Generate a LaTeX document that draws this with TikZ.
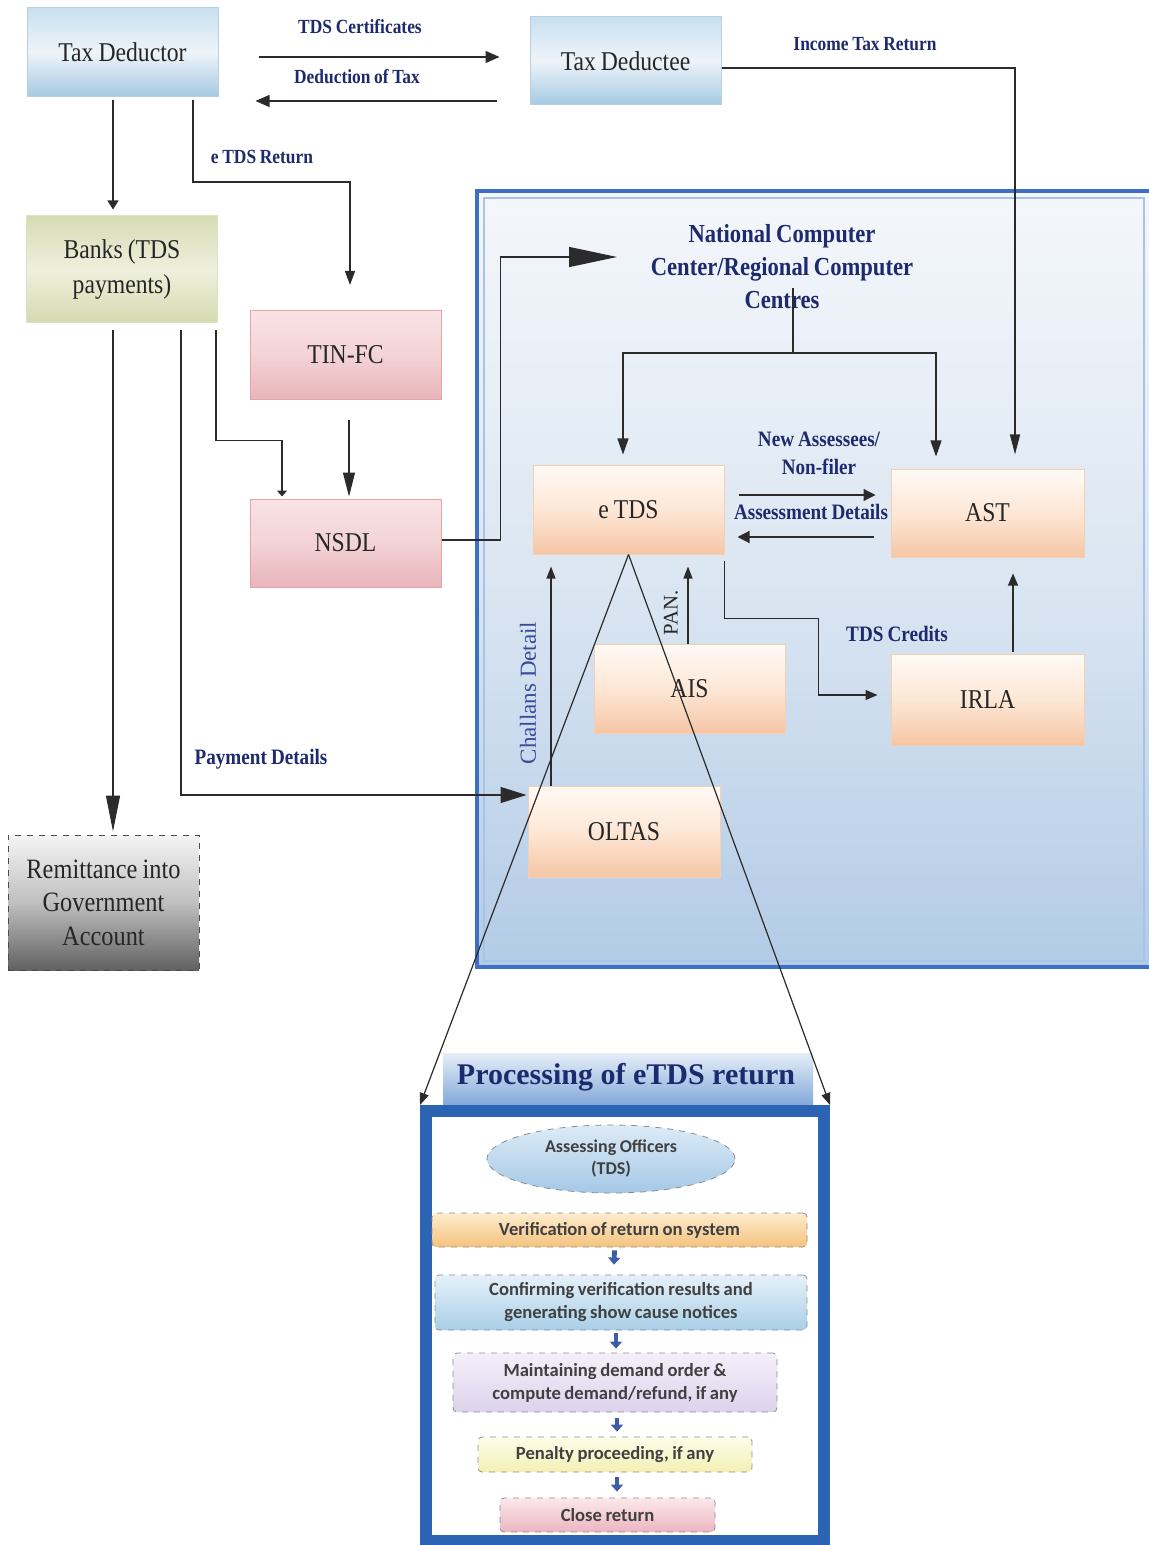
\documentclass[tikz,border=0pt]{standalone}
\usepackage{fontspec}
\setmainfont{Liberation Serif}[FakeStretch=0.87,WordSpace=0.85]
\newfontfamily\wideserif{Liberation Serif}
\newfontfamily\calib{Carlito}[WordSpace=0.85]
\usetikzlibrary{arrows.meta,calc,shapes.geometric}
\definecolor{navy}{HTML}{1E2A6E}
\definecolor{lineg}{HTML}{2B2B2B}
\definecolor{panelblue}{HTML}{2C64B4}
\definecolor{framebl}{HTML}{3D6FC4}
\definecolor{chall}{HTML}{3B4A9A}
\definecolor{sarrc}{HTML}{3D5EA6}
\definecolor{bT}{HTML}{C9E0F0}\definecolor{bM}{HTML}{EEF4F9}\definecolor{bB}{HTML}{A5C9E3}\definecolor{bD}{HTML}{B5D0E6}
\definecolor{gT}{HTML}{D6DBB5}\definecolor{gM}{HTML}{EEF0DC}\definecolor{gB}{HTML}{D5DAB0}\definecolor{gD}{HTML}{DDE2C4}
\definecolor{pT}{HTML}{F9E3E5}\definecolor{pM}{HTML}{F3D3D6}\definecolor{pB}{HTML}{E8B4BA}\definecolor{pD}{HTML}{E7A3AC}
\definecolor{oT}{HTML}{FFFAF5}\definecolor{oM}{HTML}{FDE7D6}\definecolor{oB}{HTML}{F5C6A5}\definecolor{oD}{HTML}{F5CFB3}
\definecolor{cT}{HTML}{F4F7FB}\definecolor{cM}{HTML}{DBE6F2}\definecolor{cB}{HTML}{B3CBE6}\definecolor{cL}{HTML}{A9C3E6}
\definecolor{elT}{HTML}{DCEBF7}\definecolor{elB}{HTML}{A5C8E6}
\definecolor{cfT}{HTML}{E6F1F9}\definecolor{cfB}{HTML}{A9CFE8}
\definecolor{mtT}{HTML}{F4F0F9}\definecolor{mtB}{HTML}{DCD2EC}
\definecolor{vrT}{HTML}{FDECCD}\definecolor{vrB}{HTML}{F4C27D}
\definecolor{pnT}{HTML}{FEFDE9}\definecolor{pnB}{HTML}{F3F0B5}
\definecolor{clT}{HTML}{FBE8EC}\definecolor{clB}{HTML}{EBB6C0}
\definecolor{tbT}{HTML}{E6EEF8}\definecolor{tbB}{HTML}{7EA6D8}
\tikzset{
  box/.style={draw, line width=0.5pt, minimum width=95.5pt, minimum height=44.5pt, inner sep=2pt,
    font=\fontsize{13.6}{17}\selectfont, text=black!85, align=center},
  bluebox/.style={box, draw=bD, top color=bT, bottom color=bB, middle color=bM},
  greenbox/.style={box, draw=gD, top color=gT, bottom color=gB, middle color=gM},
  pinkbox/.style={box, draw=pD, top color=pT, bottom color=pB, middle color=pM},
  greybox/.style={box, draw=black!70, dashed, top color=black!4, bottom color=black!62, middle color=black!25},
  peachbox/.style={box, draw=oD, top color=oT, bottom color=oB, middle color=oM},
  lbl/.style={font=\bfseries\fontsize{10}{12}\selectfont, text=navy},
  lblb/.style={font=\bfseries\fontsize{11}{14}\selectfont, text=navy, align=center},
  con/.style={draw=lineg, line width=0.6pt},
  tipp/.style 2 args={-{Triangle[length=#1,width=#2]}},
  pbox/.style={rounded corners=2pt, draw=black!45, dashed, line width=0.4pt,
    font=\calib\bfseries\fontsize{9.3}{11.5}\selectfont, text=black!75, align=center, inner sep=1pt},
  sarr/.style={draw=sarrc, line width=2.4pt, -{Triangle[length=3.5pt,width=6pt]}}
}
\begin{document}
\begin{tikzpicture}[x=0.5pt,y=-0.5pt]
\useasboundingbox[fill=white] (0,0) rectangle (1149,1545);

% container for the NCC area
\shade[top color=cT, bottom color=cB, middle color=cM] (478,192) rectangle (1149,966);
\draw[line width=2.2pt, draw=framebl] (477,191) rectangle (1151,967);
\draw[line width=0.6pt, draw=cL] (484,198) rectangle (1144,961);

% nodes
\node[bluebox] (td) at (122.5,52.5) {Tax Deductor};
\node[bluebox, minimum height=44pt] (tde) at (625.5,61) {Tax Deductee};
\node[greenbox, minimum height=53.5pt, font=\fontsize{13.6}{17.5}\selectfont] (banks) at (122,269.5) {Banks (TDS\\payments)};
\node[pinkbox] (tin) at (345.5,355) {TIN-FC};
\node[pinkbox, minimum height=44pt] (nsdl) at (345.5,543) {NSDL};
\node[greybox, minimum height=67.5pt, font=\fontsize{14}{16.75}\selectfont] (rem) at (103.5,902.5) {Remittance into\\Government\\Account};

\node[font=\bfseries\fontsize{13}{16.5}\selectfont, text=navy, align=center, inner sep=0pt] (ncc) at (782,267) {National Computer\\Center/Regional Computer\\Centres};
\coordinate (split) at (793,353);

\node[peachbox] (etds) at (628.5,509.5) {e TDS};
\node[peachbox, minimum width=96.5pt, minimum height=44pt] (ast) at (987.5,513) {AST};
\node[peachbox] (ais) at (689.5,688.5) {AIS};
\node[peachbox, minimum width=96.5pt, minimum height=45.5pt] (irla) at (987.5,699.5) {IRLA};
\node[peachbox, minimum width=96pt, minimum height=45.5pt] (oltas) at (624,831.5) {OLTAS};

% labels
\node[lbl] (l1) at (360,27) {TDS Certificates};
\node[lbl] (l2) at (357,77) {Deduction of Tax};
\node[lbl] (l3) at (865,44) {Income Tax Return};
\node[lbl] (l4) at (262,157) {e TDS Return};
\node[lblb] (l5) at (261,759) {Payment Details};
\node[lblb] (l6) at (819,453) {New Assessees/\\Non-filer};
\node[lblb] (l7) at (811,512) {Assessment Details};
\node[lblb] (l8) at (897,634) {TDS Credits};
\node[rotate=90, font=\wideserif\fontsize{11.5}{12}\selectfont, text=chall] (l9) at (528,693) {Challans Detail};
\node[rotate=90, font=\wideserif\fontsize{10.4}{12}\selectfont, text=black!85] (l10) at (671,613) {PAN.};

% connectors
\draw[con, tipp={7pt}{6pt}] ($(td.east)+(40,4.5)$) -- ($(tde.west)+(-30,-4)$);
\draw[con, tipp={7pt}{6pt}] ($(tde.west)+(-33,40)$) -- ($(td.east)+(37,48.5)$);
\draw[con, tipp={10pt}{5pt}] ($(tde.east)+(0,7)$) -| ($(ast.north)+(27.5,-14)$);
\draw[con, tipp={4.5pt}{5.5pt}] ($(td.south)+(-9.5,3)$) -- ($(banks.north)+(-9,-6)$);
\draw[con, tipp={7pt}{5pt}] ($(td.south)+(70.5,3)$) |- ($(tin.north)+(4.5,-128)$) -- ($(tin.north)+(4.5,-25)$);
\draw[con, tipp={12pt}{6pt}] ($(tin.south)+(3.5,20)$) -- ($(nsdl.north)+(3.5,-2)$);
\draw[con, tipp={3pt}{5pt}] ($(banks.south)+(94,7)$) |- ($(nsdl.north)+(-63.5,-58)$) -- ($(nsdl.north)+(-63.5,-2)$);
\draw[con, tipp={18pt}{7pt}] ($(banks.south)+(-9,7)$) -- ($(rem.north)+(9.5,-3)$);
\draw[con, tipp={13pt}{8pt}] ($(banks.south)+(59,7)$) |- ($(oltas.west)+(-1,-36.5)$);
\draw[con, tipp={24pt}{10pt}] ($(nsdl.east)+(0,-3)$) -- ++(59,0) |- ($(ncc.center)+(-165,-10)$);
\draw[con] ($(ncc.south -| split)+(0,-22)$) -- (split);
\draw[con, tipp={8pt}{5.5pt}] (split) -| ($(etds.north)+(-5.5,-10)$);
\draw[con, tipp={8pt}{5.5pt}] (split) -| ($(ast.north)+(-51.5,-12)$);
\draw[con, tipp={6pt}{6pt}] ($(etds.east)+(14,-14.5)$) -- ($(ast.west)+(-15,-18)$);
\draw[con, tipp={6pt}{6pt}] ($(ast.west)+(-17,24)$) -- ($(etds.east)+(13,27.5)$);
\draw[con, tipp={6pt}{4.5pt}] ($(ais.north)+(-1.5,0)$) -- ($(etds.south)+(59.5,12)$);
\draw[con, tipp={6pt}{4.5pt}] ($(oltas.north)+(-73,0)$) -- ($(etds.south)+(-77.5,12)$);
\draw[con, tipp={6pt}{5pt}] ($(etds.south east)+(0,6)$) -- ++(0,58) -- ++(94,0) |- ($(irla.west)+(-13,-4.5)$);
\draw[con, tipp={6pt}{5pt}] ($(irla.north)+(25.5,-2)$) -- ($(ast.south)+(25.5,16)$);

% processing panel
\shade[top color=tbT, bottom color=tbB] (443,1053) rectangle (813,1107);
\node[font=\wideserif\bfseries\fontsize{15}{18}\selectfont, text=navy] (ptitle) at (626,1077) {Processing of eTDS return};
\node[draw=panelblue, line width=6pt, fill=white, minimum width=199pt, minimum height=215pt, inner sep=0pt] (panel) at (625,1326) {};

\draw[con, tipp={6pt}{4.5pt}] (etds.south) -- (panel.north west);
\draw[con, tipp={6pt}{4.5pt}] (etds.south) -- (panel.north east);

\node[ellipse, draw=black!45, dashed, line width=0.4pt, top color=elT, bottom color=elB, minimum width=124pt, minimum height=34pt, inner sep=0pt, align=center, font=\calib\bfseries\fontsize{9}{11}\selectfont, text=black!75] (ao) at (611,1159) {Assessing Officers\\(TDS)};
\node[pbox, top color=vrT, bottom color=vrB, minimum width=187.5pt, minimum height=17pt] (ver) at (619.5,1230) {Verification of return on system};
\node[pbox, top color=cfT, bottom color=cfB, minimum width=186pt, minimum height=27.5pt] (conf) at (621,1302.5) {Confirming verification results and\\generating show cause notices};
\node[pbox, top color=mtT, bottom color=mtB, minimum width=162pt, minimum height=29.5pt] (maint) at (615,1382.5) {Maintaining demand order \&\\compute demand/refund, if any};
\node[pbox, top color=pnT, bottom color=pnB, minimum width=137pt, minimum height=17.5pt] (pen) at (615,1454.5) {Penalty proceeding, if any};
\node[pbox, top color=clT, bottom color=clB, minimum width=107.5pt, minimum height=17pt] (close) at (607.5,1515) {Close return};

\draw[sarr] ($(ver.south)+(-5,3)$) -- ($(conf.north)+(-7,-10)$);
\draw[sarr] ($(conf.south)+(-5,3)$) -- ($(maint.north)+(1,-4)$);
\draw[sarr] ($(maint.south)+(2,6)$) -- ($(pen.north)+(2,-5)$);
\draw[sarr] ($(pen.south)+(2,5)$) -- ($(close.north)+(9.5,-6)$);
\end{tikzpicture}
\end{document}
